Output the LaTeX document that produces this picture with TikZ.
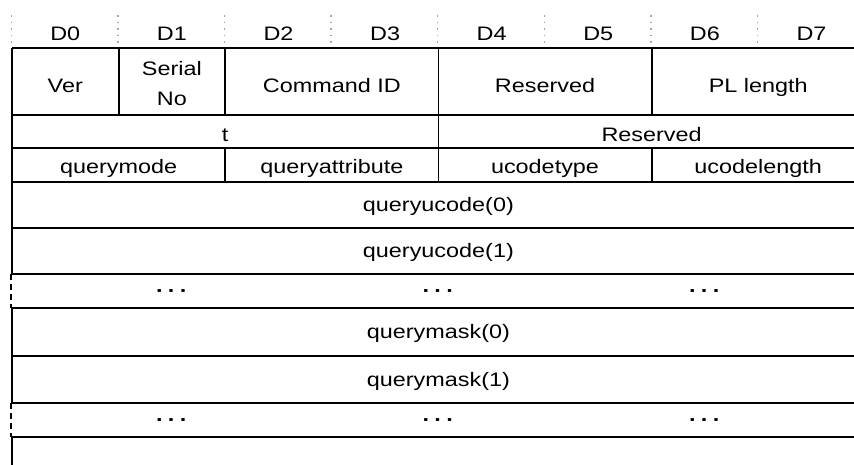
\documentclass[tikz,border=0pt]{standalone}
\usepackage{fontspec}
\setmainfont{Liberation Sans}[FakeStretch=1.2]
\usepackage{tikz}
\usetikzlibrary{calc}

\begin{document}
\begin{tikzpicture}[x=1pt,y=-1pt,
        cell/.style={font=\fontsize{19.5}{30}\selectfont,inner sep=0pt,anchor=base},
        rule/.style={line width=1.8pt},
        gapline/.style={line width=2pt,dash pattern=on 5.5pt off 4.5pt},
        colsep/.style={gray!70,line width=1.5pt,dash pattern=on 1.5pt off 5pt}]
            \clip (0,0) rectangle (854,464);
            % column edges and row edges
            \foreach \i in {0,...,8}
                \coordinate (c\i) at ({12+106.6*\i},0);
            \foreach \y [count=\j from 0] in {48,115,148,182,228,274,308,356,403,437,490}
                \coordinate (r\j) at (0,\y);

            % byte header
            \foreach \i in {0,...,7} {
                \draw[colsep] ($(c\i)+(-0.7,15)$) -- ($(c\i)+(-0.7,46)$);
                \node[cell] (d\i) at ($(c\i)+(53.3,40)$) {D\i};
            }

            % grid
            \foreach \j in {0,...,9}
                \draw[rule] (c0 |- r\j) -- (c8 |- r\j);
            \draw[rule] (c0 |- r0) -- (c0 |- r5) (c0 |- r6) -- (c0 |- r8) (c0 |- r9) -- (c0 |- r10);
            \draw[gapline] ($(c0 |- r5)+(-0.7,0)$) -- ($(c0 |- r6)+(-0.7,0)$);
            \draw[gapline] ($(c0 |- r8)+(-0.7,0)$) -- ($(c0 |- r9)+(-0.7,0)$);
            \foreach \i in {1,2,4,6}
                \draw[rule] (c\i |- r0) -- (c\i |- r1);
            \draw[rule] (c4 |- r1) -- (c4 |- r2);
            \foreach \i in {2,4,6}
                \draw[rule] (c\i |- r2) -- (c\i |- r3);

            % fields
            \node[cell] (ver) at ($(c0)!.5!(c1)+(0,92.7)$) {Ver};
            \node[cell,anchor=center,align=center] (serial) at ($(c1)!.5!(c2)+(0,84)$) {Serial\\No};
            \node[cell] (cmd) at ($(c3)+(0,92.7)$) {Command ID};
            \node[cell] (res1) at ($(c5)+(0,92.7)$) {Reserved};
            \node[cell] (pllen) at ($(c7)+(0,92.7)$) {PL length};
            \node[cell] (t) at ($(c2)+(0,141.7)$) {t};
            \node[cell] (res2) at ($(c6)+(0,141.7)$) {Reserved};
            \node[cell] (qmode) at ($(c1)+(0,173.3)$) {querymode};
            \node[cell] (qattr) at ($(c3)+(0,173.3)$) {queryattribute};
            \node[cell] (utype) at ($(c5)+(0,173.3)$) {ucodetype};
            \node[cell] (ulen) at ($(c7)+(0,173.3)$) {ucodelength};
            \node[cell] (qucode0) at ($(c4)+(0,211.7)$) {queryucode(0)};
            \node[cell] (qucode1) at ($(c4)+(0,257.7)$) {queryucode(1)};
            \node[cell] (qmask0) at ($(c4)+(0,338)$) {querymask(0)};
            \node[cell] (qmask1) at ($(c4)+(0,386)$) {querymask(1)};
            \foreach \x [count=\k] in {-266.5,0,266.5} {
                \node[cell,font=\fontsize{19.5}{30}\selectfont\bfseries] (dotsa\k) at ($(c4)+(\x,297.6)$) {·\hspace{4pt}·\hspace{4pt}·};
                \node[cell,font=\fontsize{19.5}{30}\selectfont\bfseries] (dotsb\k) at ($(c4)+(\x,426.6)$) {·\hspace{4pt}·\hspace{4pt}·};
            }
        \end{tikzpicture}
\end{document}
